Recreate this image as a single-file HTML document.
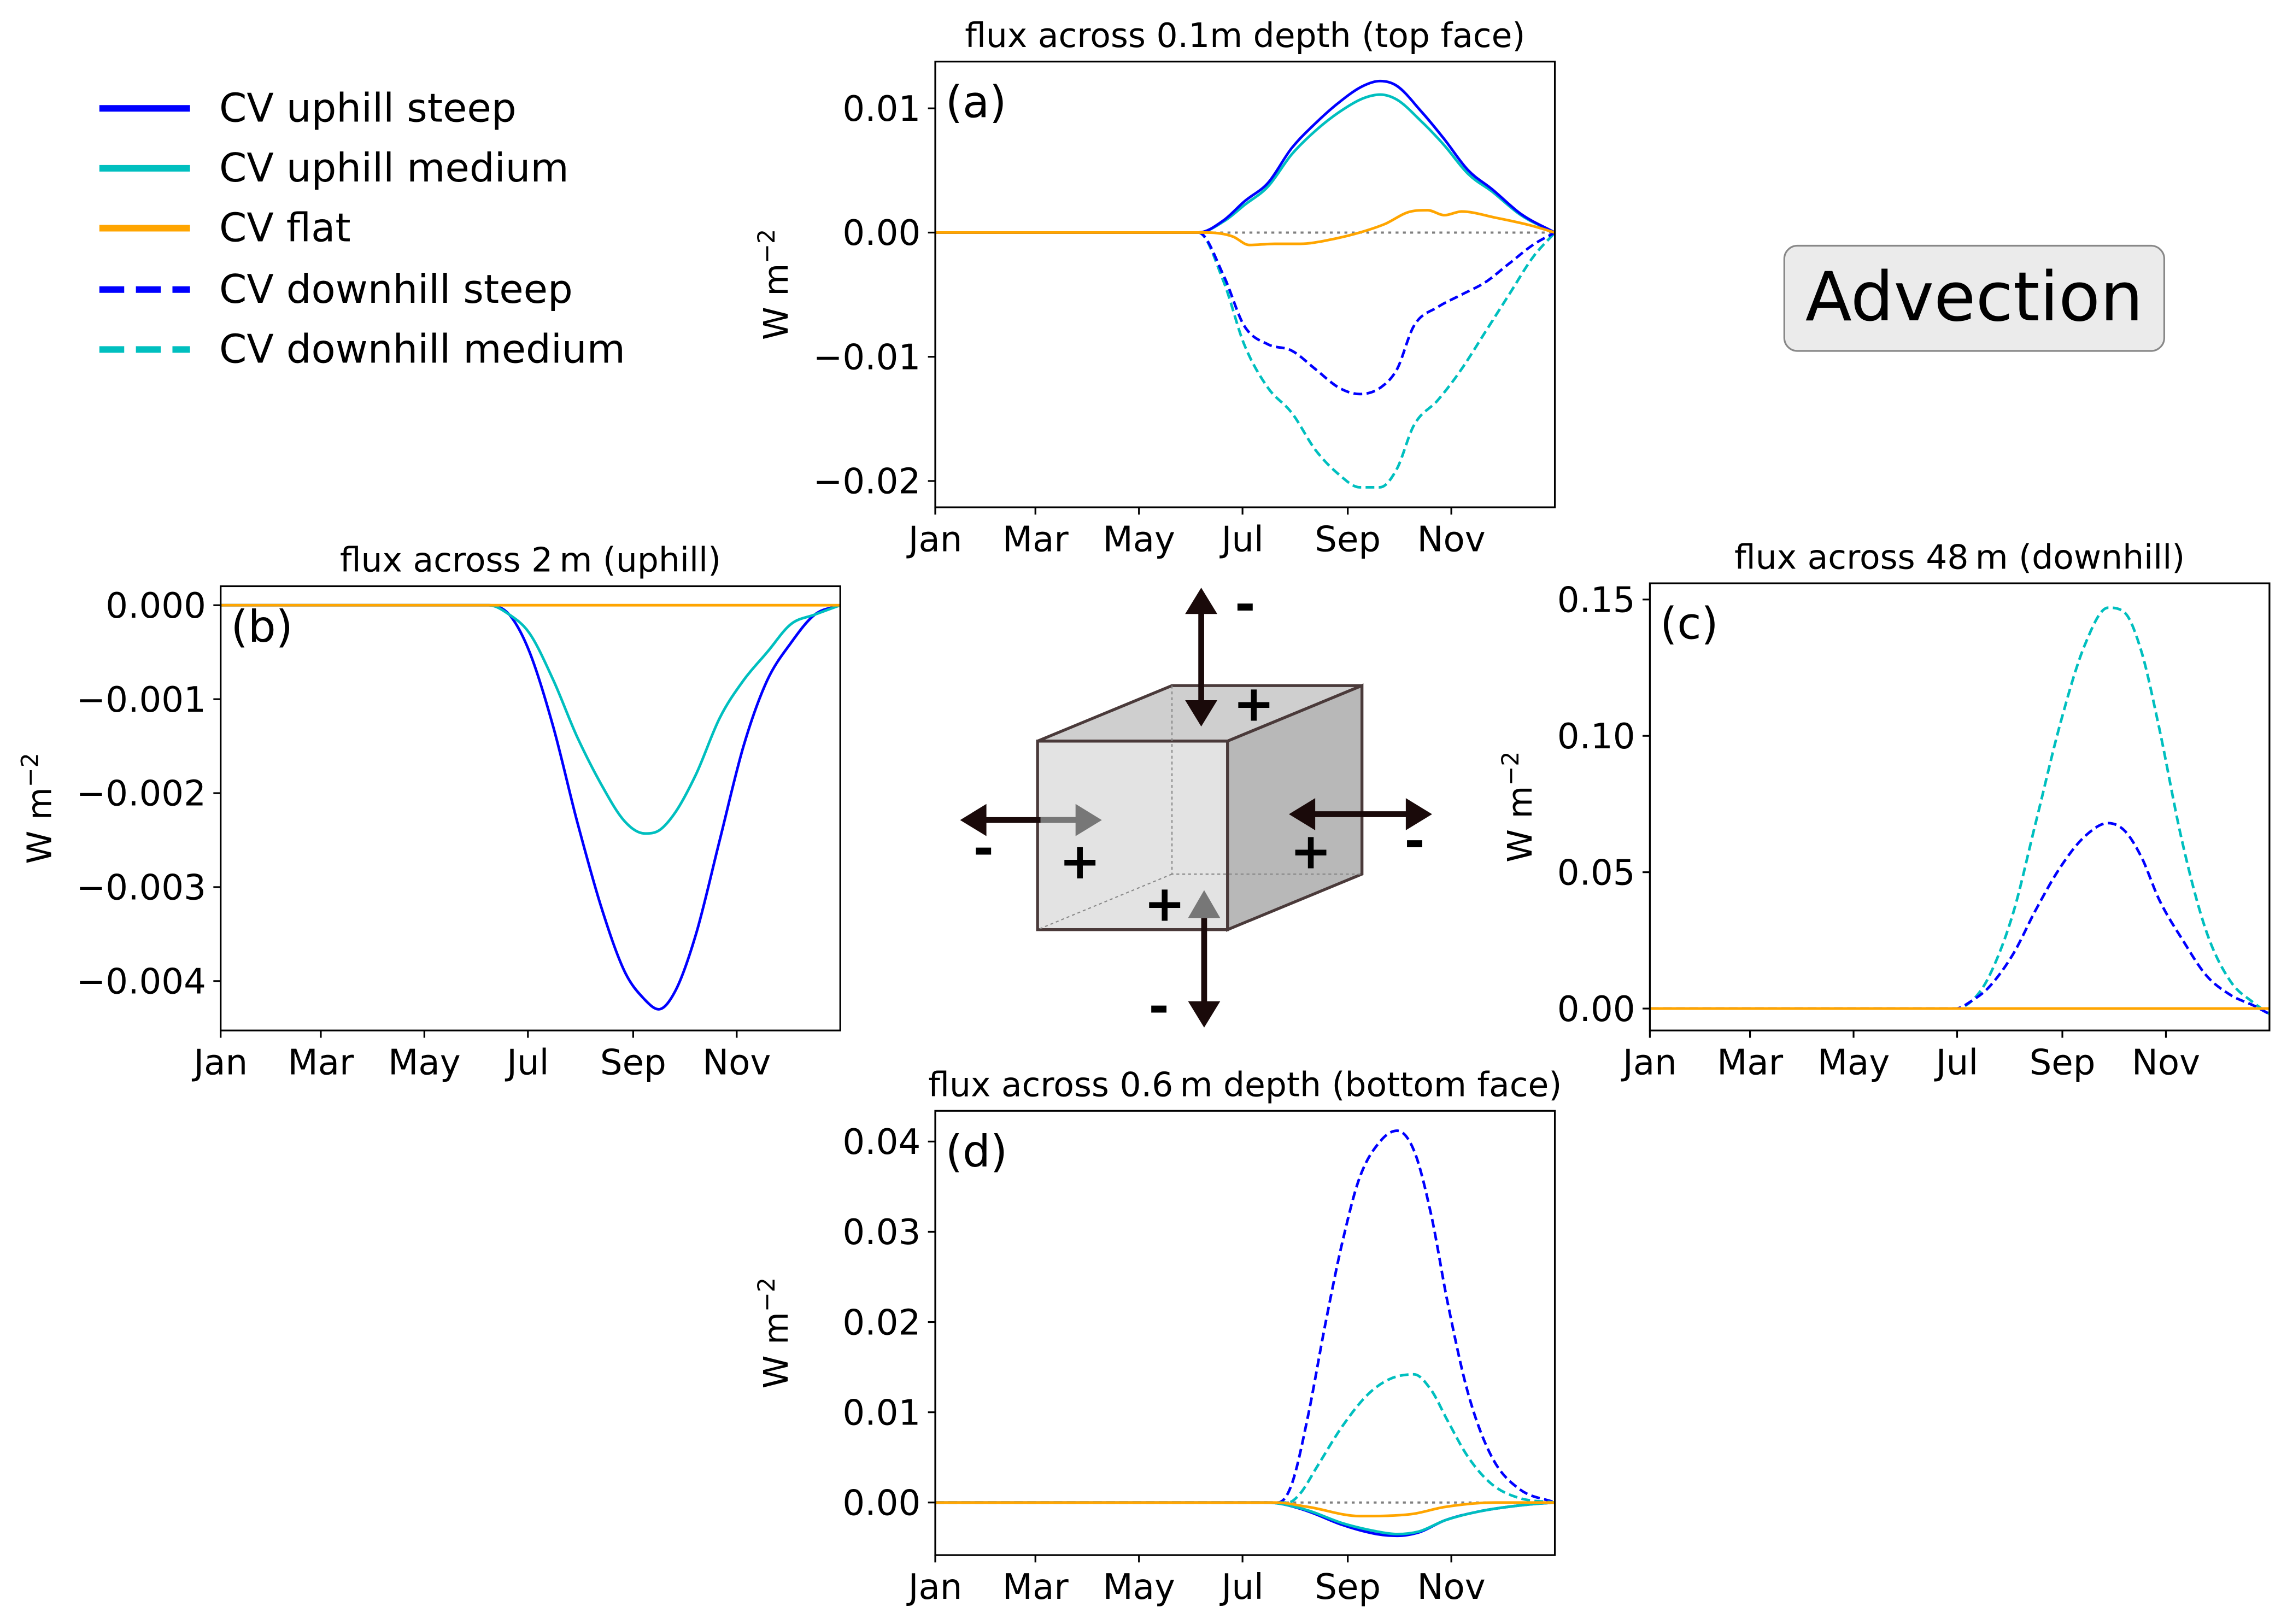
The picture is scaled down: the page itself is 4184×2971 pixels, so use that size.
<!DOCTYPE html>
<html><head><meta charset="utf-8"><style>
html,body{margin:0;padding:0;background:#fff}
svg{display:block}
text{font-family:"DejaVu Sans","Liberation Sans",sans-serif;fill:#000}
</style></head><body>
<svg id="fig" width="4184" height="2971" viewBox="0 0 1565 1111" xmlns="http://www.w3.org/2000/svg">
<rect width="1565" height="1111" fill="#fff"/>
<g font-size="27">
 <g><line x1="68" y1="74" x2="130" y2="74" stroke="#0000ff" stroke-width="4.5"/><text x="150" y="83">CV uphill steep</text></g>
 <g><line x1="68" y1="115" x2="130" y2="115" stroke="#00bfbf" stroke-width="4.5"/><text x="150" y="124">CV uphill medium</text></g>
 <g><line x1="68" y1="156" x2="130" y2="156" stroke="#ffa500" stroke-width="4.5"/><text x="150" y="165">CV flat</text></g>
 <g><line x1="68" y1="198" x2="130" y2="198" stroke="#0000ff" stroke-width="4.5" stroke-dasharray="17,8"/><text x="150" y="207">CV downhill steep</text></g>
 <g><line x1="68" y1="239" x2="130" y2="239" stroke="#00bfbf" stroke-width="4.5" stroke-dasharray="17,8"/><text x="150" y="248">CV downhill medium</text></g>
</g>
<g>
 <rect x="1221" y="168" width="260" height="72" rx="9" fill="#ebebeb" stroke="#888" stroke-width="1.2"/>
 <text x="1351" y="219" font-size="46.5" text-anchor="middle">Advection</text>
</g>
<g>
 <polygon points="710,507 802,469 932,469 840,507" fill="#cfcfcf" stroke="#4a3a3a" stroke-width="2"/>
 <polygon points="840,507 932,469 932,598 840,636" fill="#b8b8b8" stroke="#4a3a3a" stroke-width="2"/>
 <polygon points="710,507 840,507 840,636 710,636" fill="#e3e3e3" stroke="#4a3a3a" stroke-width="2"/>
 <polyline points="802,469 802,598 932,598" fill="none" stroke="#888" stroke-width="0.8" stroke-dasharray="2,2"/>
 <line x1="802" y1="598" x2="710" y2="636" stroke="#888" stroke-width="0.8" stroke-dasharray="2,2"/>
 <line x1="822" y1="418" x2="822" y2="482" stroke="#1a0a0a" stroke-width="4"/>
 <polygon points="822,402 811,420 833,420" fill="#1a0a0a"/>
 <polygon points="822,497 811,479 833,479" fill="#1a0a0a"/>
 <line x1="824" y1="628" x2="824" y2="688" stroke="#1a0a0a" stroke-width="4"/>
 <polygon points="824,703 813,685 835,685" fill="#1a0a0a"/>
 <polygon points="824,609 813,628 835,628" fill="#777"/>
 <line x1="672" y1="561" x2="738" y2="561" stroke="#1a0a0a" stroke-width="4"/>
 <line x1="712" y1="561" x2="738" y2="561" stroke="#777" stroke-width="4"/>
 <polygon points="657,561 675,550 675,572" fill="#1a0a0a"/>
 <polygon points="754,561 736,550 736,572" fill="#777"/>
 <line x1="898" y1="557" x2="964" y2="557" stroke="#1a0a0a" stroke-width="4"/>
 <polygon points="882,557 900,546 900,568" fill="#1a0a0a"/>
 <polygon points="980,557 962,546 962,568" fill="#1a0a0a"/>
 <g font-size="34" font-weight="bold" text-anchor="middle">
  <text x="852" y="425">-</text><text x="858" y="493">+</text>
  <text x="673" y="592">-</text><text x="739" y="601" fill="#777">+</text>
  <text x="897" y="594">+</text><text x="968" y="587">-</text>
  <text x="797" y="630" fill="#777">+</text><text x="793" y="700">-</text>
 </g>
</g>
<g id="charts"></g>
</svg>
<script>
const monthLabels = ["Jan","Mar","May","Jul","Sep","Nov"];
const monthDays = [0,59,120,181,243,304];

const aDaysUS = [0,155,170,182,196,210,224,238,252,262,272,286,300,314,328,345,365];
const aUS = [0,0,0.001,0.0025,0.004,0.0068,0.0088,0.0105,0.0118,0.0122,0.0118,0.0098,0.0075,0.005,0.0035,0.0015,0];
const aUM = [0,0,0.0009,0.0022,0.0037,0.0063,0.0082,0.0097,0.0108,0.0111,0.0107,0.009,0.007,0.0047,0.0033,0.0014,0];
const aDaysF = [0,160,175,185,200,215,235,250,265,280,290,300,310,330,350,365];
const aF = [0,0,-0.0003,-0.001,-0.0009,-0.0009,-0.0005,0,0.0007,0.0017,0.0018,0.0014,0.0017,0.0012,0.0006,0];
const aDaysD = [0,155,170,182,196,210,224,238,250,262,272,282,296,310,324,338,352,365];
const aDS = [0,0,-0.0035,-0.0075,-0.009,-0.0095,-0.011,-0.0125,-0.013,-0.0125,-0.011,-0.0075,-0.006,-0.005,-0.004,-0.0025,-0.001,0];
const aDM = [0,0,-0.004,-0.009,-0.0125,-0.0145,-0.0175,-0.0195,-0.0205,-0.0205,-0.019,-0.0155,-0.0135,-0.011,-0.008,-0.005,-0.002,0];

const bDays = [0,158,170,182,196,210,224,238,250,258,268,280,294,308,322,336,350,365];
const bUS = [0,0,-0.0001,-0.0005,-0.0013,-0.0023,-0.0032,-0.0039,-0.0042,-0.0043,-0.0041,-0.0035,-0.0025,-0.0015,-0.0008,-0.0004,-0.0001,0];
const bUM = [0,0,-0.0001,-0.0003,-0.0008,-0.0014,-0.0019,-0.0023,-0.00243,-0.0024,-0.0022,-0.0018,-0.0012,-0.0008,-0.0005,-0.0002,-0.0001,0];

const cDays = [0,180,190,200,214,228,242,256,270,280,290,300,314,328,342,356,365];
const cDM = [0,0,0.003,0.012,0.035,0.07,0.105,0.133,0.147,0.145,0.13,0.103,0.06,0.028,0.01,0.002,-0.002];
const cDS = [0,0,0.003,0.008,0.02,0.037,0.052,0.063,0.068,0.065,0.055,0.04,0.025,0.012,0.005,0.001,-0.002];

const dDaysDS = [0,202,210,220,230,240,250,262,272,282,292,302,314,328,344,365];
const dDS = [0,0,0.002,0.01,0.02,0.029,0.036,0.04,0.0412,0.039,0.032,0.022,0.012,0.005,0.0015,0];
const dDaysDM = [0,208,215,225,240,255,268,282,292,302,314,328,344,365];
const dDM = [0,0,0.001,0.004,0.0085,0.012,0.0137,0.0142,0.0125,0.009,0.005,0.002,0.0005,0];
const dDaysU = [0,195,205,220,240,260,272,285,300,320,345,365];
const dUS = [0,0,-0.0002,-0.001,-0.0025,-0.0035,-0.0037,-0.0033,-0.002,-0.001,-0.0003,0];
const dUM = [0,0,-0.0002,-0.0009,-0.0023,-0.0032,-0.0035,-0.0032,-0.002,-0.001,-0.0003,0];
const dDaysF = [0,200,220,250,280,300,330,365];
const dF = [0,0,-0.0005,-0.0015,-0.0013,-0.0005,0,0];

const aTicks = [0.01,0,-0.01,-0.02], aTickLabels = ["0.01","0.00","\u22120.01","\u22120.02"];
const bTicks = [0,-0.001,-0.002,-0.003,-0.004], bTickLabels = ["0.000","\u22120.001","\u22120.002","\u22120.003","\u22120.004"];
const cTicks = [0,0.05,0.1,0.15], cTickLabels = ["0.00","0.05","0.10","0.15"];
const dTicks = [0,0.01,0.02,0.03,0.04], dTickLabels = ["0.00","0.01","0.02","0.03","0.04"];

const NS="http://www.w3.org/2000/svg";
const root=document.getElementById('charts');
function mk(tag,attrs,parent){const e=document.createElementNS(NS,tag);for(const k in attrs)e.setAttribute(k,attrs[k]);parent.appendChild(e);return e;}
// monotone cubic (Fritsch-Carlson) path
function smooth(p){
  const n=p.length, dx=[], s=[], m=[];
  for(let i=0;i<n-1;i++){dx[i]=p[i+1][0]-p[i][0]; s[i]=(p[i+1][1]-p[i][1])/dx[i];}
  m[0]=s[0]; m[n-1]=s[n-2];
  for(let i=1;i<n-1;i++){ m[i]=(s[i-1]*s[i]<=0)?0:(s[i-1]+s[i])/2; }
  for(let i=0;i<n-1;i++){
    if(s[i]===0){m[i]=0;m[i+1]=0;continue;}
    const a=m[i]/s[i],b=m[i+1]/s[i],h=a*a+b*b;
    if(h>9){const t=3/Math.sqrt(h);m[i]=t*a*s[i];m[i+1]=t*b*s[i];}
  }
  let d='M'+p[0][0].toFixed(1)+','+p[0][1].toFixed(1);
  for(let i=0;i<n-1;i++){
    const h=dx[i]/3;
    d+=' C'+(p[i][0]+h).toFixed(1)+','+(p[i][1]+m[i]*h).toFixed(1)+' '+(p[i+1][0]-h).toFixed(1)+','+(p[i+1][1]-m[i+1]*h).toFixed(1)+' '+p[i+1][0].toFixed(1)+','+p[i+1][1].toFixed(1);
  }
  return d;
}

function panel(id,box,ymap,ticks,labels,title,letter,series){
  const g=mk('g',{},root);
  
  
  const [x0,y0,x1,y1]=box;
  const xs=d=>x0+(x1-x0)*d/365;
  const ys=v=>ymap[0]+(v-ymap[1])*ymap[2];
  const z=mk('line',{x1:x0,x2:x1,y1:ys(0),y2:ys(0),stroke:'#808080','stroke-width':1.5,'stroke-dasharray':'2,3'},g);
  
  
  series.forEach(s=>{
    const p=mk('path',{fill:'none',stroke:s.c,'stroke-width':1.8,'stroke-dasharray':s.dash?'6,3':'none','stroke-linejoin':'round'},g);
    p.setAttribute('d',smooth(s.d.map((d,i)=>[xs(d),ys(s.v[i])])));
    
    
  });
  const fr=mk('rect',{x:x0,y:y0,width:x1-x0,height:y1-y0,fill:'none',stroke:'#000','stroke-width':1.2},g);
  
  
  ticks.forEach((t,i)=>{
    const y=ys(t);
    mk('line',{x1:x0-5,x2:x0,y1:y,y2:y,stroke:'#000','stroke-width':1.2},g);
    const tx=mk('text',{x:x0-10,y:y+8.5,'font-size':24,'text-anchor':'end'},g);
    tx.textContent=labels[i];
    
    
  });
  monthDays.forEach((d,i)=>{
    const x=xs(d);
    mk('line',{x1:x,x2:x,y1:y1,y2:y1+5,stroke:'#000','stroke-width':1.2},g);
    const tx=mk('text',{x:x,y:y1+30,'font-size':24,'text-anchor':'middle'},g);
    tx.textContent=monthLabels[i];
    
    
  });
  const tt=mk('text',{x:(x0+x1)/2,y:y0-10,'font-size':23,'text-anchor':'middle'},g);
  tt.textContent=title;
  
  
  const lt=mk('text',{x:x0+7,y:y0+38,'font-size':30},g);
  lt.textContent=letter;
  
  
  const yl=mk('text',{transform:`translate(${id==='b'?35:(id==='c'?1048:539)},${(y0+y1)/2}) rotate(-90)`,'font-size':23,'text-anchor':'middle'},g);
  yl.innerHTML='W m<tspan dy="-9" font-size="16">\u22122</tspan>';
  
  
}
const B='#0000ff',C='#00bfbf',O='#ffa500';
panel('a',[640,42,1064,347],[159,0,-8500],aTicks,aTickLabels,'flux across 0.1m depth (top face)','(a)',[
 {n:'downhill-medium',d:aDaysD,v:aDM,c:C,dash:1},{n:'downhill-steep',d:aDaysD,v:aDS,c:B,dash:1},
 {n:'uphill-medium',d:aDaysUS,v:aUM,c:C},{n:'uphill-steep',d:aDaysUS,v:aUS,c:B},{n:'flat',d:aDaysF,v:aF,c:O}]);
panel('b',[151,401,575,705],[414,0,-64300],bTicks,bTickLabels,'flux across 2\u2009m (uphill)','(b)',[
 {n:'uphill-steep',d:bDays,v:bUS,c:B},{n:'uphill-medium',d:bDays,v:bUM,c:C},{n:'flat',d:[0,365],v:[0,0],c:O}]);
panel('c',[1129,399,1553,705],[690,0,-1866],cTicks,cTickLabels,'flux across 48\u2009m (downhill)','(c)',[
 {n:'downhill-medium',d:cDays,v:cDM,c:C,dash:1},{n:'downhill-steep',d:cDays,v:cDS,c:B,dash:1},{n:'flat',d:[0,365],v:[0,0],c:O}]);
panel('d',[640,760,1064,1064],[1028,0,-6175],dTicks,dTickLabels,'flux across 0.6\u2009m depth (bottom face)','(d)',[
 {n:'downhill-steep',d:dDaysDS,v:dDS,c:B,dash:1},{n:'downhill-medium',d:dDaysDM,v:dDM,c:C,dash:1},
 {n:'uphill-steep',d:dDaysU,v:dUS,c:B},{n:'uphill-medium',d:dDaysU,v:dUM,c:C},{n:'flat',d:dDaysF,v:dF,c:O}]);
</script>
</body></html>
